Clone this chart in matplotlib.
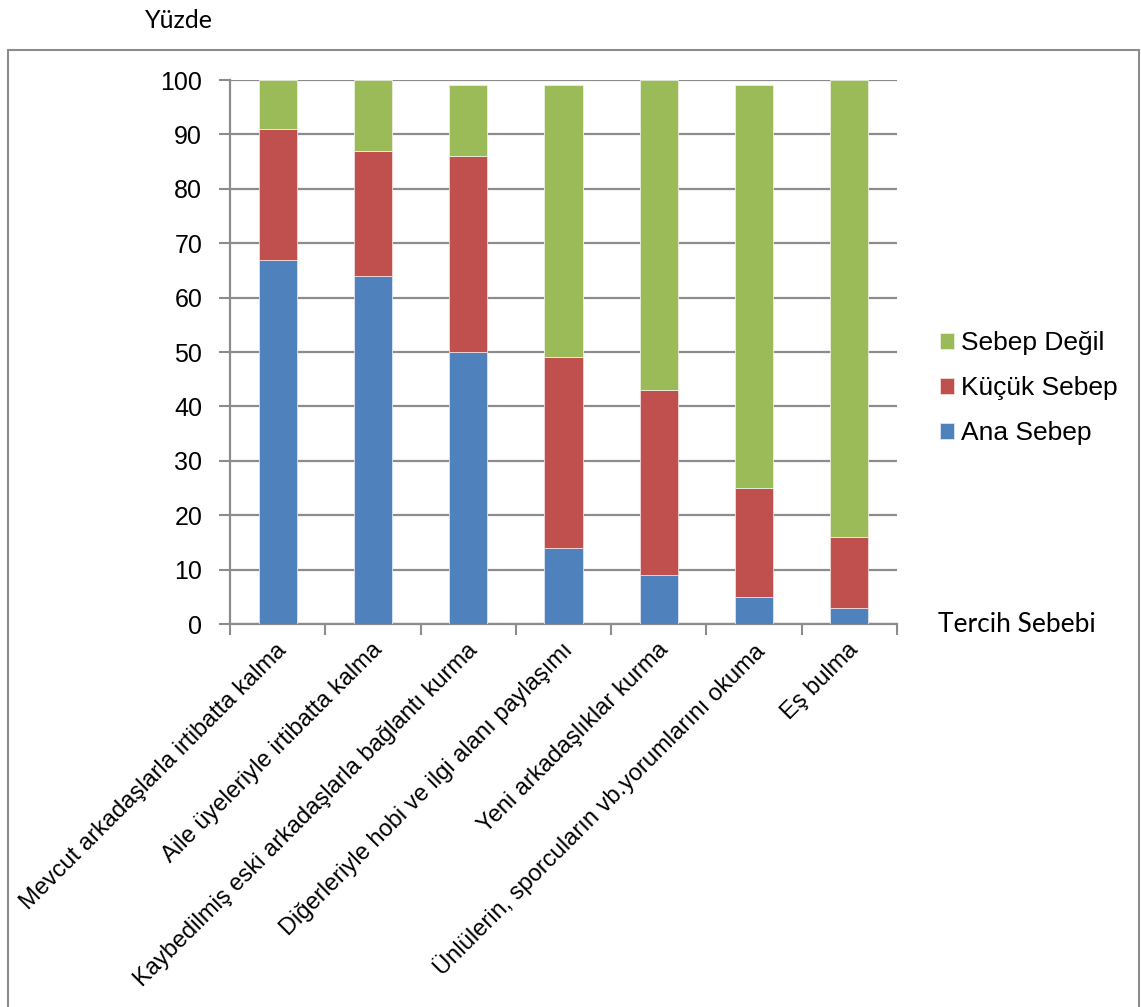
import numpy as np
import matplotlib
matplotlib.use("Agg")
import matplotlib.pyplot as plt
from matplotlib.patches import Rectangle
from matplotlib.transforms import ScaledTranslation

plt.rcParams['font.family'] = ['Liberation Sans', 'DejaVu Sans']

# veriler
kategoriler = [
    "Mevcut arkadaşlarla irtibatta kalma",
    "Aile üyeleriyle irtibatta kalma",
    "Kaybedilmiş eski arkadaşlarla bağlantı kurma",
    "Diğerleriyle hobi ve ilgi alanı paylaşımı",
    "Yeni arkadaşlıklar kurma",
    "Ünlülerin, sporcuların vb.yorumlarını okuma",
    "Eş bulma",
]
ana_sebep = [67, 64, 50, 14, 9, 5, 3]
kucuk_sebep = [24, 23, 36, 35, 34, 20, 13]
sebep_degil = [9, 13, 13, 50, 57, 74, 84]
y_ticks = [0, 10, 20, 30, 40, 50, 60, 70, 80, 90, 100]

renk_ana = "#4F81BD"
renk_kucuk = "#C0504D"
renk_degil = "#9BBB59"
gri = "#8C8C8C"

fig = plt.figure(figsize=(11.41, 10.07), dpi=100)
ax = fig.add_axes([230 / 1141, 1 - 624 / 1007, (897 - 230) / 1141, (624 - 80) / 1007])

x = np.arange(len(kategoriler))
alt2 = np.array(ana_sebep)
alt3 = alt2 + np.array(kucuk_sebep)
g = 0.4
ax.bar(x, ana_sebep, g, color=renk_ana, edgecolor="#DCE6F2", linewidth=0.6, label="Ana Sebep", zorder=3)
ax.bar(x, kucuk_sebep, g, bottom=alt2, color=renk_kucuk, edgecolor="#F2DCDB", linewidth=0.6, label="Küçük Sebep", zorder=3)
ax.bar(x, sebep_degil, g, bottom=alt3, color=renk_degil, edgecolor="#EBF1DE", linewidth=0.6, label="Sebep Değil", zorder=3)

ax.set_xlim(-0.5, len(kategoriler) - 0.5)
ax.set_ylim(0, 100)
ax.set_yticks(y_ticks)
ax.tick_params(axis='y', labelsize=18, length=8, width=1.5, color=gri, pad=12, direction='out')
ax.yaxis.grid(True, color=gri, linewidth=1.6, zorder=0)
ax.set_axisbelow(True)

# x eksen çentikleri kategori sınırlarında
ax.set_xticks(np.arange(-0.5, len(kategoriler), 1.0))
ax.set_xticklabels([])
ax.tick_params(axis='x', length=8, width=1.5, color=gri, direction='out')
ax.set_xticks(x, minor=True)
ax.set_xticklabels(kategoriler, minor=True, rotation=45, ha='right', va='top',
                   rotation_mode='anchor', fontsize=17)
ax.tick_params(axis='x', which='minor', length=0, pad=0)
ofs = ScaledTranslation(-0.02, -0.15, fig.dpi_scale_trans)
for lab in ax.get_xticklabels(minor=True):
    lab.set_transform(lab.get_transform() + ofs)

for s in ['top', 'right']:
    ax.spines[s].set_visible(False)
for s in ['left', 'bottom']:
    ax.spines[s].set_color(gri)
    ax.spines[s].set_linewidth(1.6)

h, l = ax.get_legend_handles_labels()
ax.legend(h[::-1], l[::-1], loc='center left', bbox_to_anchor=(916 / 1141, 1 - 388 / 1007),
          bbox_transform=fig.transFigure, frameon=False, fontsize=19,
          handlelength=0.55, handleheight=0.55, handletextpad=0.25, labelspacing=0.8)

fig.text(145 / 1141, 1 - 20 / 1007, "Yüzde", fontsize=18, family=['Lato', 'DejaVu Sans'],
         ha='left', va='center')
fig.text(938 / 1141, 1 - 624 / 1007, "Tercih Sebebi", fontsize=19, family=['Lato', 'DejaVu Sans'],
         ha='left', va='center')

# dış çerçeve
fig.patches.append(Rectangle((8 / 1141, -0.01), (1139 - 8) / 1141, 1 - 50 / 1007 + 0.01,
                             transform=fig.transFigure, fill=False, edgecolor=gri, linewidth=1.5))

fig.savefig("out.png", dpi=100)
